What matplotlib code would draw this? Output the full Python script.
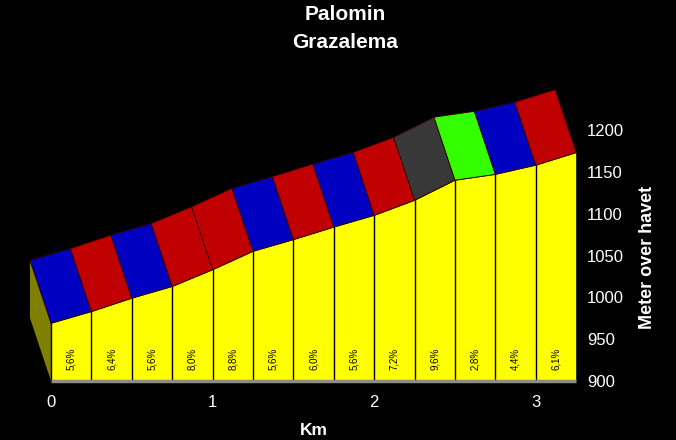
import matplotlib
matplotlib.use("Agg")
import matplotlib.pyplot as plt
from matplotlib.patches import Polygon

# ---- data ----
km = [0.0, 0.25, 0.5, 0.75, 1.0, 1.25, 1.5, 1.75, 2.0, 2.25, 2.5, 2.75, 3.0, 3.25]
elev = [969, 983, 999, 1013, 1033, 1055, 1069, 1084, 1098, 1116, 1140, 1147, 1158, 1173]
grade_labels = ["5,6%", "6,4%", "5,6%", "8,0%", "8,8%", "5,6%", "6,0%", "5,6%",
                "7,2%", "9,6%", "2,8%", "4,4%", "6,1%"]
grade_values = [5.6, 6.4, 5.6, 8.0, 8.8, 5.6, 6.0, 5.6, 7.2, 9.6, 2.8, 4.4, 6.1]
xticks = [0, 1, 2, 3]
yticks = [900, 950, 1000, 1050, 1100, 1150, 1200]
title_lines = ["Palomin", "Grazalema"]


def grade_color(g):
    if g < 3:
        return "#33FF00"
    if g < 6:
        return "#0000C0"
    if g < 9:
        return "#C00000"
    return "#383838"


W, H = 676, 440
fig = plt.figure(figsize=(W / 100, H / 100), dpi=100, facecolor="black")
ax_l, ax_r, ax_t, ax_b = 20, 580, 85, 385
ax = fig.add_axes([ax_l / W, 1 - ax_b / H, (ax_r - ax_l) / W, (ax_b - ax_t) / H])
ax.set_facecolor("black")

base = 900
# pixel mapping helpers for limits
px_per_km = 161.6
px_per_m = 251.0 / 300.0
x0_px, y900_px = 51, 381
ax.set_xlim((ax_l - x0_px) / px_per_km, (ax_r - x0_px) / px_per_km)
ax.set_ylim(base - (ax_b - y900_px) / px_per_m, base + (y900_px - ax_t) / px_per_m)

ddx = -21 / px_per_km   # depth offset
ddy = 63 / px_per_m

# left side face (olive)
side = Polygon([(km[0], base), (km[0], elev[0]), (km[0] + ddx, elev[0] + ddy),
                (km[0] + ddx, base + ddy)], closed=True, facecolor="#808000",
               edgecolor="none", zorder=1)
ax.add_patch(side)

# front face (yellow)
front_pts = [(km[0], base)] + list(zip(km, elev)) + [(km[-1], base)]
ax.add_patch(Polygon(front_pts, closed=True, facecolor="#FFFF00",
                     edgecolor="none", zorder=2))
# vertical dividers
for i in range(len(km) - 1):
    ax.plot([km[i], km[i]], [base, elev[i]], color="black", lw=1.0, zorder=3)
# profile edge
ax.plot(km, elev, color="#202000", lw=0.8, zorder=4)
# baseline
ax.plot([km[0], km[-1]], [base, base], color="#8C8C8C", lw=2.5, zorder=3,
        solid_capstyle="butt")

# top band segments
for i in range(len(km) - 1):
    pts = [(km[i], elev[i]), (km[i + 1], elev[i + 1]),
           (km[i + 1] + ddx, elev[i + 1] + ddy), (km[i] + ddx, elev[i] + ddy)]
    ax.add_patch(Polygon(pts, closed=True, facecolor=grade_color(grade_values[i]),
                         edgecolor="#300000", lw=0.6, zorder=5))

# gradient labels
for i, lab in enumerate(grade_labels):
    xc = (km[i] + km[i + 1]) / 2
    ax.text(xc, 926, lab, rotation=90, ha="center", va="center", fontsize=7,
            color="black", family="Liberation Sans", zorder=6)

for s in ax.spines.values():
    s.set_visible(False)
ax.set_xticks(xticks)
ax.set_xticklabels([str(t) for t in xticks])
ax.set_yticks(yticks)
ax.set_yticklabels([str(t) for t in yticks])
ax.yaxis.tick_right()
ax.tick_params(axis="both", length=0, colors="white", labelsize=12)
ax.tick_params(axis="x", pad=7)
ax.tick_params(axis="y", pad=5)
for lab in ax.get_xticklabels() + ax.get_yticklabels():
    lab.set_family("Liberation Sans")

fig.text(345 / W, 1 - 15 / H, title_lines[0], ha="center", va="center",
         color="white", fontsize=15, fontweight="bold", family="Liberation Sans")
fig.text(345 / W, 1 - 43 / H, title_lines[1], ha="center", va="center",
         color="white", fontsize=15, fontweight="bold", family="Liberation Sans")
fig.text(314 / W, 1 - 430 / H, "Km", ha="center", va="center", color="white",
         fontsize=12.5, fontweight="bold", family="Liberation Sans")
fig.text(648 / W, 1 - 257 / H, "Meter over havet", ha="center", va="center",
         rotation=90, color="white", fontsize=13, fontweight="bold",
         family="Liberation Sans")

fig.savefig("out.png", dpi=100, facecolor="black")
